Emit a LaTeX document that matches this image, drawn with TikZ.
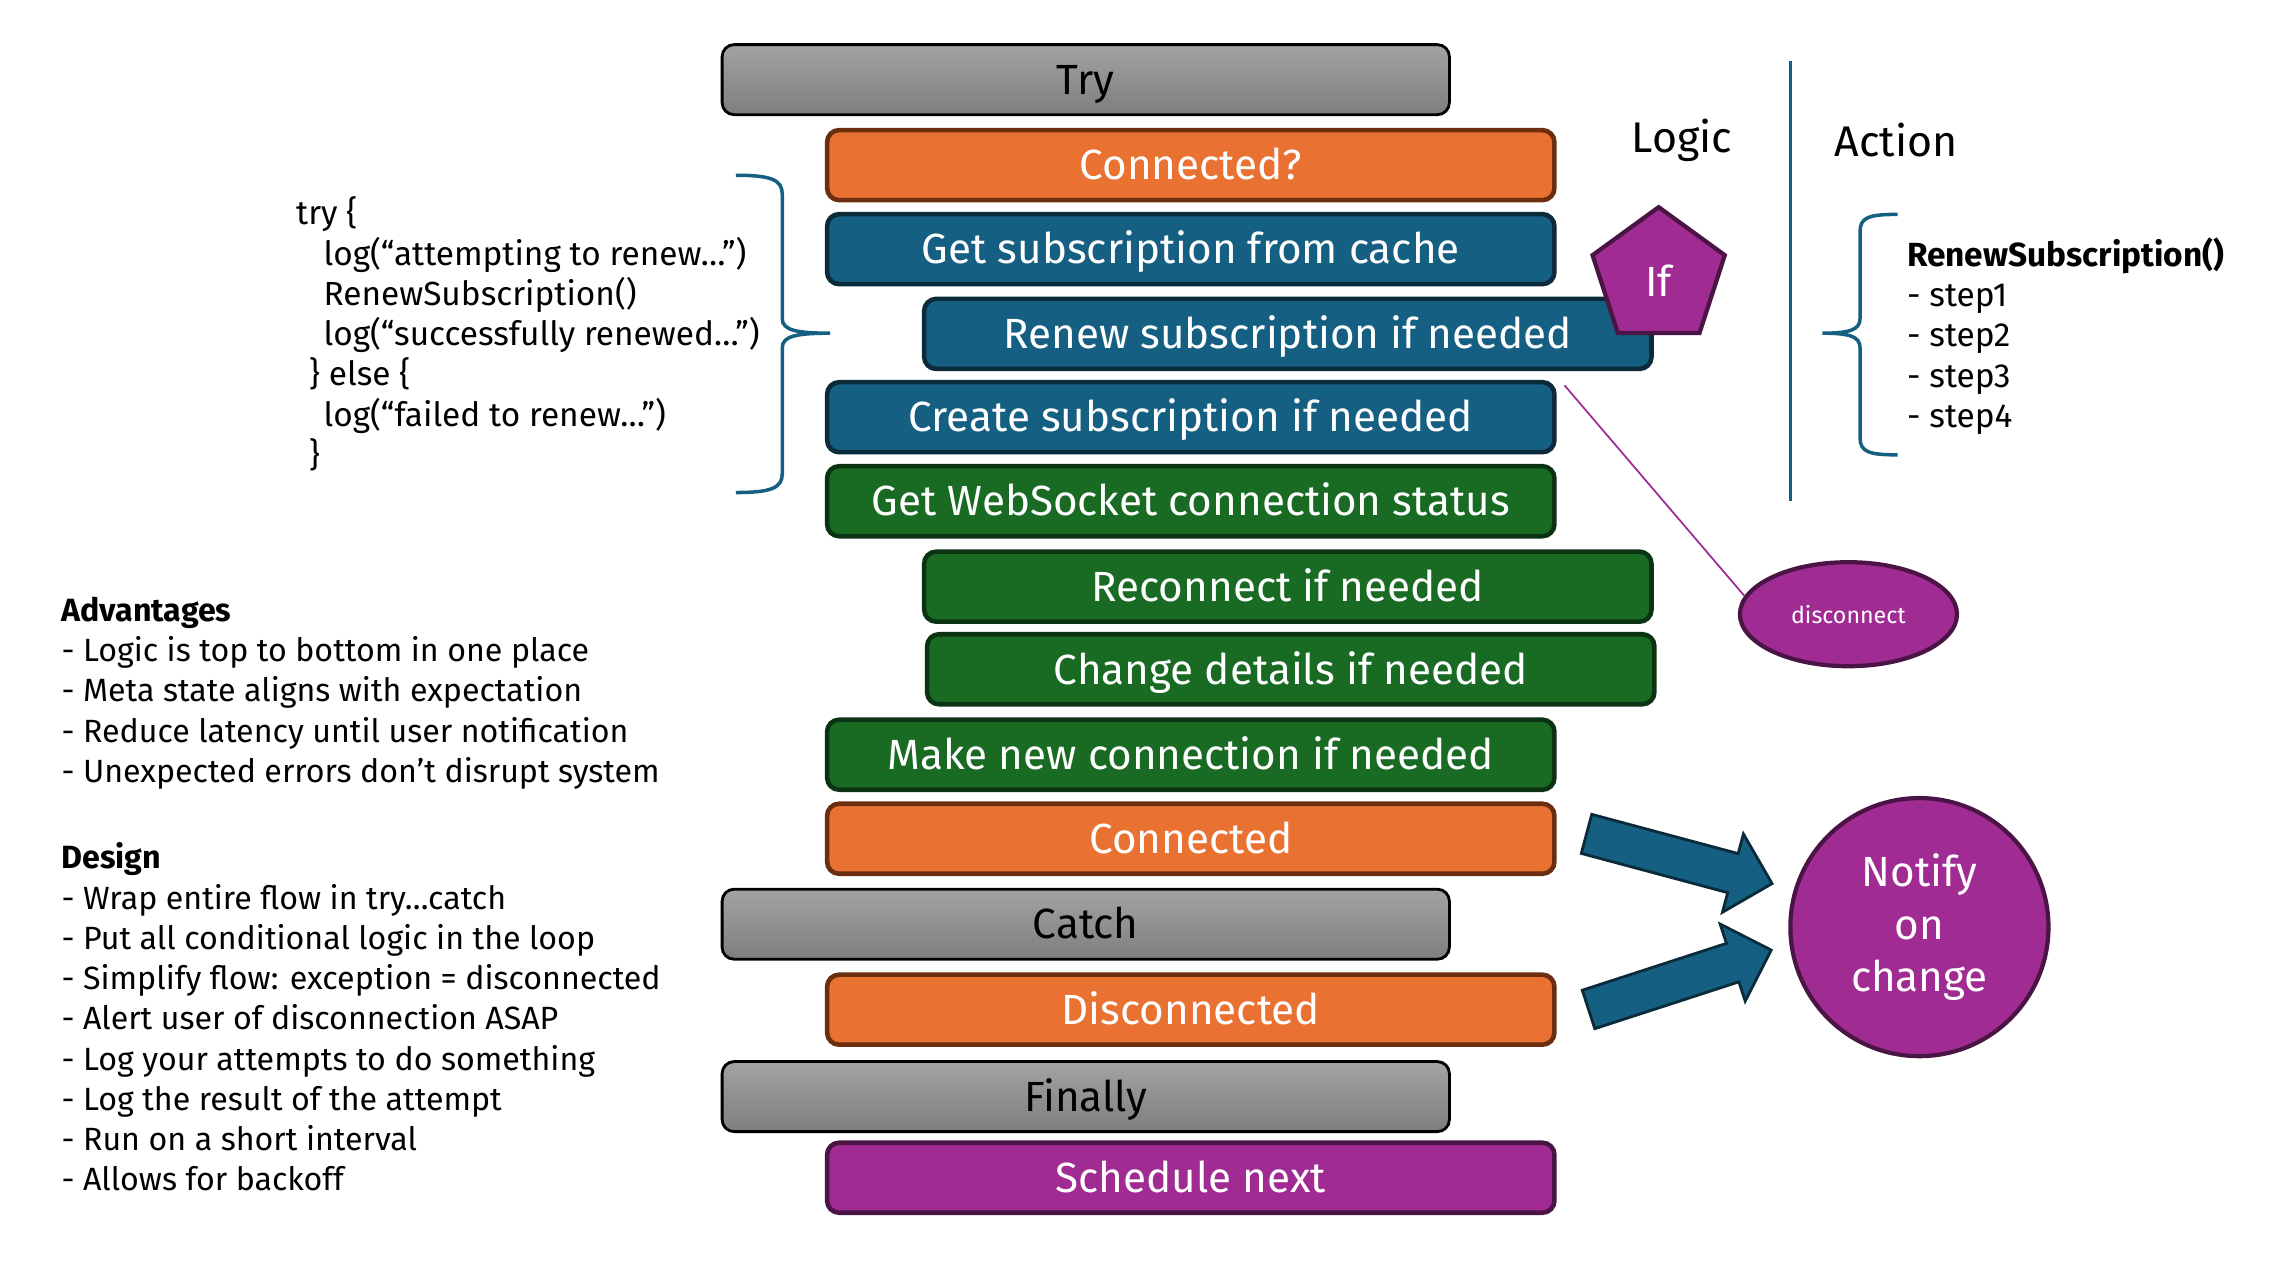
\documentclass[tikz,border=0pt]{standalone}
\usepackage{fontspec}
\setmainfont{Fira Sans}
\usetikzlibrary{shapes.geometric,shapes.arrows}

\definecolor{orangefill}{HTML}{E97132}
\definecolor{orangeline}{HTML}{6B2E0E}
\definecolor{bluefill}{HTML}{156082}
\definecolor{blueline}{HTML}{0B2B3A}
\definecolor{greenfill}{HTML}{196B24}
\definecolor{greenline}{HTML}{0C3311}
\definecolor{purplefill}{HTML}{A02B93}
\definecolor{purpleline}{HTML}{4A1444}
\definecolor{graytop}{HTML}{A3A3A3}
\definecolor{graybot}{HTML}{7E7E7E}

\tikzset{
  stepbox/.style={draw, rounded corners=0.12cm, minimum width=7.27cm,
    minimum height=0.7cm, line width=1.3pt, text=white, inner sep=0pt,
    text height=0.95em, text depth=0.11em,
    font=\fontsize{12}{14}\selectfont},
  orangebox/.style={stepbox, fill=orangefill, draw=orangeline},
  bluebox/.style={stepbox, fill=bluefill, draw=blueline},
  greenbox/.style={stepbox, fill=greenfill, draw=greenline},
  purplebox/.style={stepbox, fill=purplefill, draw=purpleline},
  graybox/.style={stepbox, top color=graytop, bottom color=graybot,
    draw=black, line width=0.8pt, text=black},
  smalltext/.style={font=\fontsize{9.15}{11.45}\selectfont, inner sep=0pt,
    anchor=west, align=left},
  blockarrow/.style={single arrow, draw=blueline, fill=bluefill,
    line width=0.8pt, minimum height=1.92cm, inner xsep=0pt,
    inner ysep=0.188cm, single arrow head extend=0.203cm},
}

\begin{document}
\begin{tikzpicture}[x=0.014486cm, y=-0.014486cm]
      \useasboundingbox (0,0) rectangle (1567,876.7);
      \draw
        (749.5,55) node[graybox] (try){Try}
        (822,114) node[orangebox] (connq){Connected?}
        (822,172) node[bluebox] (getsub){Get subscription from cache}
        (889,230.5) node[bluebox] (renew){Renew subscription if needed}
        (822,288) node[bluebox] (create){Create subscription if needed}
        (822,346) node[greenbox] (status){Get WebSocket connection status}
        (889,405) node[greenbox] (reconn){Reconnect if needed}
        (891,462) node[greenbox] (change){Change details if needed}
        (822,521) node[greenbox] (newconn){Make new connection if needed}
        (822,579) node[orangebox] (conn){Connected}
        (749.5,638) node[graybox] (catch){Catch}
        (822,697) node[orangebox] (disconn){Disconnected}
        (749.5,757) node[graybox] (finally){Finally}
        (822,813) node[purplebox] (next){Schedule next};
      \node[regular polygon, regular polygon sides=5, minimum size=1.39cm,
        inner sep=0pt, fill=purplefill, draw=purpleline, line width=1.2pt,
        text=white, text height=1.1em, text depth=0pt,
        font=\fontsize{12}{14}\selectfont] (cond) at (1145,191) {If};
      \node[ellipse, minimum width=2.17cm, minimum height=1.04cm,
        fill=purplefill, draw=purpleline, line width=1.2pt, text=white,
        font=\fontsize{6.6}{7}\selectfont] (disc) at (1276,424) {disconnect};
      \node[circle, minimum size=2.58cm, inner sep=0pt, fill=purplefill,
        draw=purpleline, line width=1.2pt, text=white, align=center,
        font=\fontsize{12}{14.9}\selectfont] (notify) at (1325,640)
        {Notify\\on\\change};
      \node[blockarrow, rotate=-15] (toconn) at (1152.5,591) {};
      \node[blockarrow, rotate=18] (todisconn) at (1153,678.5) {};
      \coordinate (cut) at (1080,266);
      \draw[purplefill, line width=0.5pt] (cut) -- (disc.170);

      % logic / action columns
      \node[font=\fontsize{12.2}{14}\selectfont] (logic) at (1161,97) {Logic};
      \node[font=\fontsize{12.2}{14}\selectfont] (action) at (1309,97) {Action};
      \draw[bluefill, line width=1pt] (1236,42) -- (1236,346);
      \draw[bluefill, line width=1pt] (1310,148)
        .. controls (1290,148) and (1284,150) .. (1284,160) -- (1284,220)
        .. controls (1284,228) and (1276,230) .. (1258,230)
        .. controls (1276,230) and (1284,232) .. (1284,240) -- (1284,302)
        .. controls (1284,312) and (1290,314) .. (1310,314);
      \node[smalltext, font=\fontsize{9.5}{11.45}\selectfont] (steps) at (1316,232)
        {\textbf{RenewSubscription()}\\- step1\\- step2\\- step3\\- step4};

      % code block
      \draw[bluefill, line width=1pt] (508,121)
        .. controls (532,121) and (540,124) .. (540,134) -- (540,220)
        .. controls (540,228) and (550,230) .. (573,230)
        .. controls (550,230) and (540,232) .. (540,240) -- (540,327)
        .. controls (540,337) and (532,340) .. (508,340);
      \node[smalltext, font=\fontsize{9.5}{11.45}\selectfont] (code) at (204,230.5)
        {try \{\\
        \hspace*{7.8pt}log(“attempting to renew…”)\\
        \hspace*{7.8pt}RenewSubscription()\\
        \hspace*{7.8pt}log(“successfully renewed…”)\\
        \hspace*{3.7pt}\} else \{\\
        \hspace*{7.8pt}log(“failed to renew…”)\\
        \hspace*{3.7pt}\}};

      % notes
      \node[smalltext] (adv) at (42,478.5)
        {\textbf{Advantages}\\
        - Logic is top to bottom in one place\\
        - Meta state aligns with expectation\\
        - Reduce latency until user notification\\
        - Unexpected errors don’t disrupt system};
      \node[smalltext] (design) at (42,702)
        {\textbf{Design}\\
        - Wrap entire flow in try…catch\\
        - Put all conditional logic in the loop\\
        - Simplify flow: exception = disconnected\\
        - Alert user of disconnection ASAP\\
        - Log your attempts to do something\\
        - Log the result of the attempt\\
        - Run on a short interval\\
        - Allows for backoff};
    \end{tikzpicture}
\end{document}
